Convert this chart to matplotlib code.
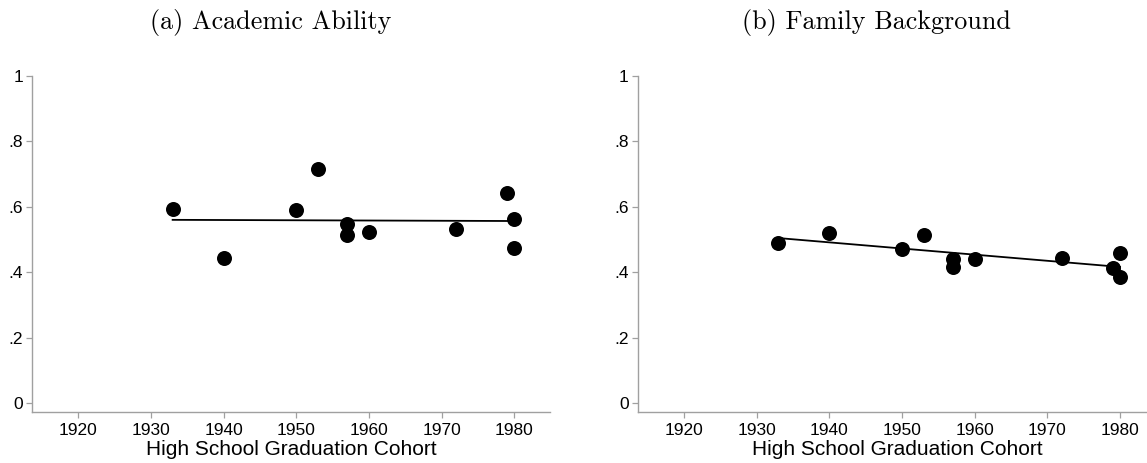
import matplotlib
matplotlib.use("Agg")
import matplotlib.pyplot as plt
import numpy as np

# cohort years (same for both panels)
cohort = [1933, 1940, 1950, 1953, 1957, 1957, 1960, 1972, 1979, 1980, 1980]
# panel (a) academic ability
ability = [0.594, 0.443, 0.590, 0.717, 0.548, 0.515, 0.522, 0.534, 0.643, 0.564, 0.473]
# panel (b) family background
background = [0.491, 0.519, 0.470, 0.513, 0.440, 0.417, 0.442, 0.445, 0.412, 0.458, 0.387]

panel_titles = ["(a) Academic Ability", "(b) Family Background"]
x_ticks = [1920, 1930, 1940, 1950, 1960, 1970, 1980]
y_ticks = [0, 0.2, 0.4, 0.6, 0.8, 1.0]
y_tick_labels = ["0", ".2", ".4", ".6", ".8", "1"]
x_label = "High School Graduation Cohort"

W, H = 1147, 463
fig = plt.figure(figsize=(W / 100, H / 100), dpi=100)

axis_gray = "#a0a0a0"


def draw_panel(ax, x, y):
    ax.plot(x, y, "o", color="black", markersize=10.8, markeredgewidth=0, zorder=3)
    slope, intercept = np.polyfit(x, y, 1)
    xs = np.array([min(x), max(x)])
    ax.plot(xs, intercept + slope * xs, color="black", linewidth=1.3, zorder=2)

    ax.set_xlim(1913.7, 1984.9)
    ax.set_ylim(-0.0275, 1.0)
    ax.set_xticks(x_ticks)
    ax.set_yticks(y_ticks)
    ax.set_yticklabels(y_tick_labels)
    for side in ["top", "right"]:
        ax.spines[side].set_visible(False)
    for side in ["left", "bottom"]:
        ax.spines[side].set_color(axis_gray)
        ax.spines[side].set_linewidth(1.0)
    ax.tick_params(axis="both", colors=axis_gray, labelcolor="black", length=4.3,
                   width=0.9, labelsize=12.5)
    ax.tick_params(axis="y", pad=2.4)
    ax.tick_params(axis="x", pad=3.5)
    for lab in ax.get_xticklabels() + ax.get_yticklabels():
        lab.set_fontfamily("Liberation Sans")
    ax.set_xlabel(x_label, fontsize=15, fontfamily="Liberation Sans", labelpad=1)


# axes boxes in pixels: left, top, bottom
ax_w = 550 - 32.3
boxes = [(32.3, 76, 412.3), (638, 76, 412.3)]
data = [ability, background]
title_x = [271, 876.7]

for i, (left, top, bottom) in enumerate(boxes):
    ax = fig.add_axes([left / W, (H - bottom) / H, ax_w / W, (bottom - top) / H])
    draw_panel(ax, cohort, data[i])
    fig.text(title_x[i] / W, (H - 23) / H, panel_titles[i], ha="center", va="center",
             fontsize=18.8, fontfamily="cmr10")

fig.savefig("out.png", dpi=100)
